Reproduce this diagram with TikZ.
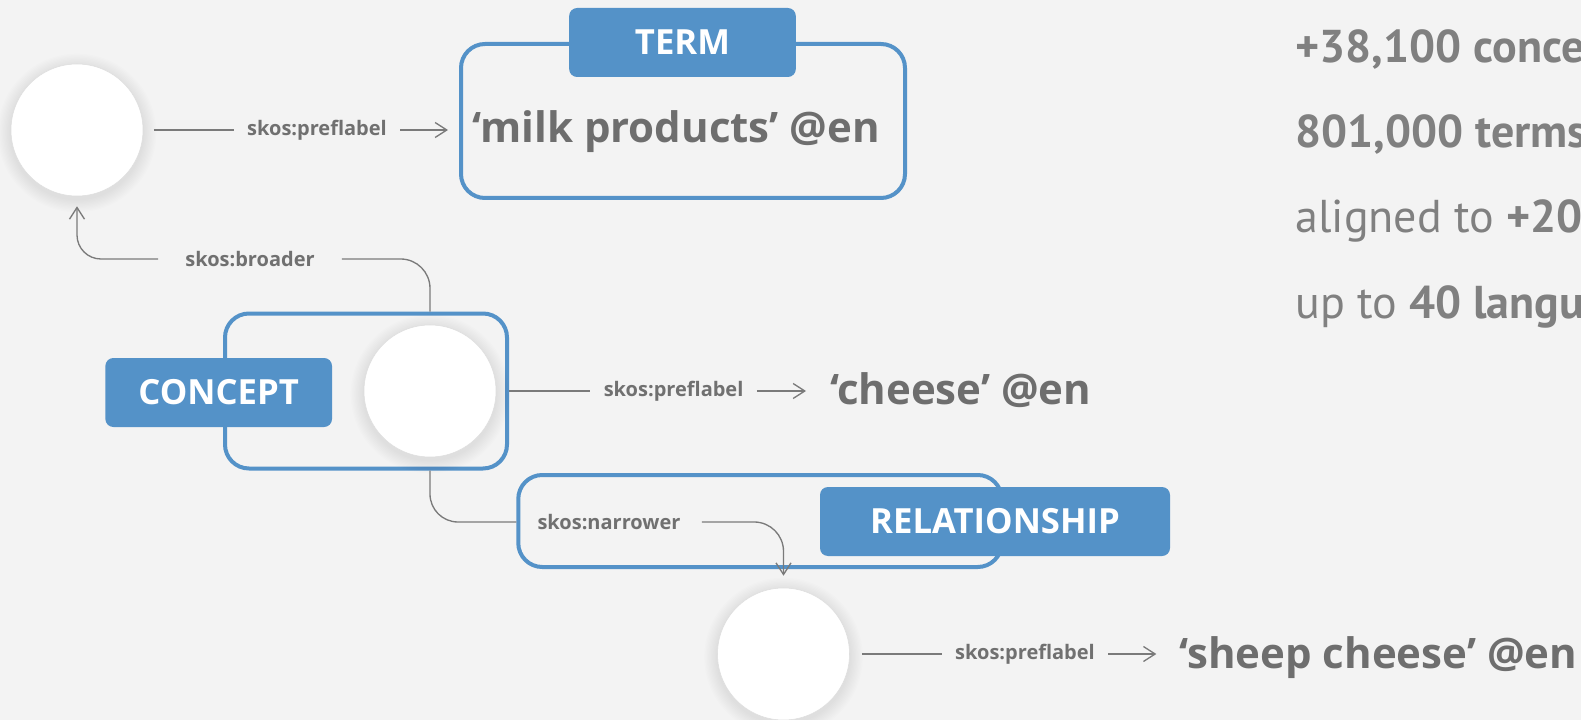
\documentclass[tikz,border=0pt]{standalone}
\usepackage{fontspec}
\setmainfont{Open Sans}
\newfontfamily\statfont{PT Sans}
\usetikzlibrary{arrows.meta}

\definecolor{skosblue}{RGB}{84,146,200}
\definecolor{bggrey}{RGB}{243,243,243}
\definecolor{termgrey}{RGB}{110,110,110}
\definecolor{propgrey}{RGB}{112,112,112}
\definecolor{linkgrey}{RGB}{122,122,122}
\definecolor{statgrey}{RGB}{128,128,128}

\tikzset{every picture/.style={line width=0.75pt}}
\tikzset{
  concept/.style={circle, fill=white, draw={rgb, 255:red, 222; green, 222; blue, 222}, line width=0.4pt, minimum size=99pt, inner sep=0pt},
  glow/.style={fill=black, opacity=0.007},
  frame/.style={draw=skosblue, line width=3pt, rounded corners=18pt, inner sep=0pt},
  tag/.style={fill=skosblue, rounded corners=6pt, text=white, font=\bfseries\fontsize{26}{30}\selectfont, minimum width=170pt, minimum height=51.75pt, inner sep=0pt},
  prop/.style={text=propgrey, font=\bfseries\fontsize{15}{18}\selectfont, inner xsep=9.75pt, inner ysep=0pt},
  term/.style={text=termgrey, font=\bfseries\fontsize{31.5}{36}\selectfont, inner sep=0pt, anchor=base west},
  stat/.style={text=statgrey, font=\statfont\fontsize{34.5}{40}\selectfont, inner sep=0pt, anchor=base west},
  link/.style={draw=linkgrey, line width=1pt},
  arrowlink/.style={-{Straight Barb[length=8.75pt,width=11.25pt]}},
}

\begin{document}
\begin{tikzpicture}[x=0.75pt,y=0.75pt,yscale=-1,xscale=1]
\useasboundingbox (0,0) rectangle (1581,720);
\clip (0,0) rectangle (1581,720);
\fill[bggrey] (0,0) rectangle (1581,720);

%Rounded Rect [id:dp4417203958121] 
\node[frame, minimum width=333pt, minimum height=115.5pt] (termbox) at (683,121) {};
%Rounded Rect [id:dp2290571836604] 
\node[frame, minimum width=211.5pt, minimum height=116.25pt] (conceptbox) at (366,391) {};
%Rounded Rect [id:dp7708126459153] 
\node[frame, minimum width=362.6pt, minimum height=69pt] (relbox) at (760,521) {};

%soft shadow under the circles
\foreach \cx/\cy in {77/130, 430/391, 783.5/654}
  \foreach \r in {1,...,10}
    \fill[glow] (\cx,\cy+3) circle[radius=49.5pt+\r*1pt];

%Shape: Circle [id:dp0931847265513] 
\node[concept] (c1) at (77,130) {};
%Shape: Circle [id:dp5584016723340] 
\node[concept] (c2) at (430,391) {};
%Shape: Circle [id:dp6612075098431] 
\node[concept] (c3) at (783.5,654) {};

\node[tag] (termtag) at (682.5,42.5) {TERM};
\node[tag] (concepttag) at (218.7,392.5) {CONCEPT};
\node[tag, minimum width=262.5pt] (reltag) at (995,521.5) {RELATIONSHIP};

\node[term] (milk) at (472,143) {‘milk products’ @en};
\node[term] (cheese) at (830,404) {‘cheese’ @en};
\node[term] (sheep) at (1179,668) {‘sheep cheese’ @en};

\node[prop] (pl1) at (317,130) {skos:preflabel};
\node[prop] (pl2) at (673.6,391) {skos:preflabel};
\node[prop] (pl3) at (1025,654) {skos:preflabel};
\node[prop, inner xsep=20pt] (broader) at (250,259) {skos:broader};
\node[prop] (narrower) at (609,522) {skos:narrower};

%Straight Lines [id:da3307145860221] 
\draw[link, shorten <=8pt] (c1.east) -- (pl1.west);
\draw[link, arrowlink, shorten >=8.25pt] (pl1.east) -- (pl1.east -| termbox.west);

%Straight Lines [id:da8815290374416] 
\draw[link] (conceptbox.east |- pl2.west) -- (pl2.west);
\draw[link, arrowlink, shorten >=18pt] (pl2.east) -- (pl2.east -| cheese.west);

%Straight Lines [id:da1270943385562] 
\draw[link, shorten <=9pt] (c3.east) -- (pl3.west);
\draw[link, arrowlink, shorten >=17pt] (pl3.east) -- (pl3.east -| sheep.west);

%Curve Lines [id:da6049318822710] 
\draw[link, rounded corners=22pt] (c2 |- conceptbox.north) |- (broader.east);
\draw[link, arrowlink, rounded corners=18pt, shorten >=7.5pt] (broader.west) -| (c1.south);

%Curve Lines [id:da9172263508843] 
\draw[link, rounded corners=21pt] (c2 |- conceptbox.south) |- (relbox.west |- narrower);
\draw[link, arrowlink, rounded corners=22pt, shorten >=9pt] ([xshift=6pt]narrower.east) -| (c3.north);

\node[stat] (concepts) at (1295,63) {\textbf{+38,100 concepts}};
\node[stat] (terms) at (1295,148) {\textbf{801,000 terms}};
\node[stat] (aligned) at (1295,233) {aligned to \textbf{+20}};
\node[stat] (languages) at (1295,319) {up to \textbf{40 languages}};

\end{tikzpicture}
\end{document}
